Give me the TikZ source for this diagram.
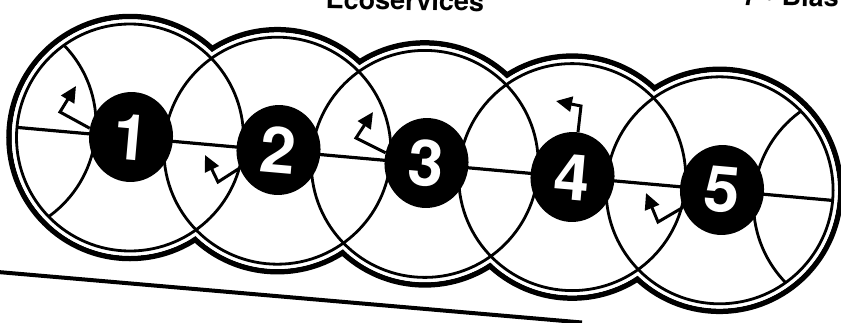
\documentclass[tikz,border=0pt]{standalone}
\usepackage{fontspec}
\setmainfont{TeX Gyre Heros}
\usetikzlibrary{arrows.meta,calc,shapes.geometric}
\begin{document}
\begin{tikzpicture}[x=1pt,y=-1pt,
  outerring/.style={line width=5.5pt},
  innerring/.style={line width=2.8pt},
  axisline/.style={line width=3.2pt},
  disc/.style={ellipse,fill=black,minimum width=84pt,minimum height=90pt,inner sep=0pt,
    text=white,font=\fontsize{64}{64}\selectfont\bfseries,rotate=-5},
  arr/.style={line width=3pt,line join=miter,-{Triangle[length=16pt,width=15pt]}},
  pagetext/.style={font=\fontsize{27}{27}\selectfont\bfseries,inner sep=0pt}
]
\useasboundingbox (0,0) rectangle (841,322);
\clip (0,0) rectangle (841,322);
% centres
\coordinate (c0) at (-17.4,124.3);
\coordinate (c1) at (130,137.5);
\coordinate (c2) at (277.4,150.7);
\coordinate (c3) at (424.8,163.9);
\coordinate (c4) at (572.2,177.1);
\coordinate (c5) at (719.6,190.3);
\coordinate (c6) at (867,203.5);
% outer outline of the union
\foreach \k in {1,...,5} \draw[outerring] (c\k) circle[radius=121pt];
\foreach \k in {1,...,5} \fill[white] (c\k) circle[radius=118.25pt];
% inner circles
\foreach \k in {1,...,5} \draw[innerring] (c\k) circle[radius=113.5pt];
\begin{scope}
  \clip (c1) circle[radius=113.5pt];
  \draw[innerring] (c0) circle[radius=113.5pt];
\end{scope}
\begin{scope}
  \clip (c5) circle[radius=113.5pt];
  \draw[innerring] (c6) circle[radius=113.5pt];
\end{scope}
% axis line
\coordinate (hl) at ($(c1)!-113.5pt!(c2)$);
\coordinate (hr) at ($(c5)!-113.5pt!(c4)$);
\draw[axisline] (hl) -- (hr);
% discs
\node[disc] (d1) at (131,137) {1};
\node[disc] (d2) at (278.5,150) {2};
\node[disc] (d3) at (426.5,163) {3};
\node[disc] (d4) at (572.5,177) {4};
\node[disc] (d5) at (722,190) {5};
% arrows
\coordinate (k1) at (60,112);  \coordinate (t1) at (76,86);
\coordinate (k2) at (218,182); \coordinate (t2) at (205,155);
\coordinate (k3) at (356,138); \coordinate (t3) at (373,112);
\coordinate (k4) at (581,106); \coordinate (t4) at (556,101);
\coordinate (k5) at (658,222); \coordinate (t5) at (646,193);
\draw[arr] (d1.173) -- (k1) -- (t1);
\draw[arr] (d2.210) -- (k2) -- (t2);
\draw[arr] (d3.171) -- (k3) -- (t3);
\draw[arr] (d4.88) -- (k4) -- (t4);
\draw[arr] (d5.209) -- (k5) -- (t5);
% base line
\coordinate (b1) at (-2,272);
\coordinate (b2) at (582,322.5);
\draw[line width=4pt] (b1) -- (b2);
% cut-off page texts
\node[pagetext,anchor=base east,rotate=-1] (txa) at (484,11.5) {Ecoservices};
\node[pagetext,anchor=base west,rotate=-1] (txb) at (742,5) {7 • Blas};
\end{tikzpicture}
\end{document}
